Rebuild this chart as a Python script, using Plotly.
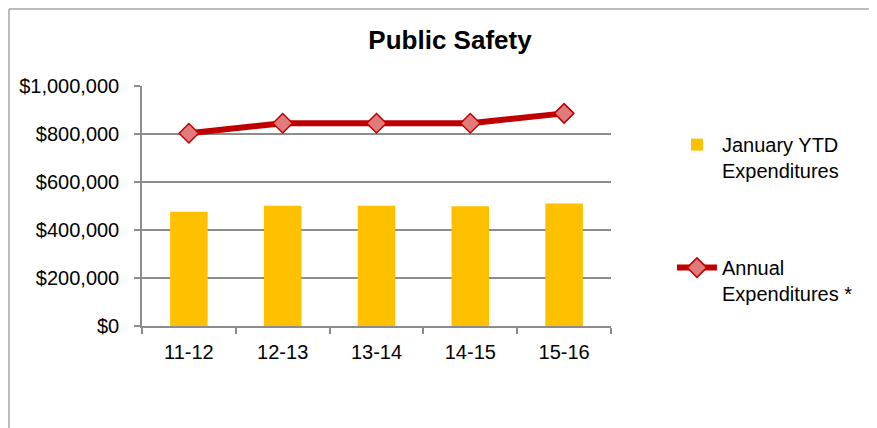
import plotly.graph_objects as go

categories = ["11-12", "12-13", "13-14", "14-15", "15-16"]
ytd_expenditures = [476000, 501000, 501000, 499000, 510000]
annual_expenditures = [803000, 845000, 845000, 845000, 886000]
y_ticks = [0, 200000, 400000, 600000, 800000, 1000000]

FONT = "Arial, Liberation Sans, sans-serif"

fig = go.Figure()
fig.add_trace(go.Bar(
    x=categories, y=ytd_expenditures,
    name="January YTD<br>Expenditures",
    marker=dict(color="#FFC000", line=dict(width=0)),
    width=0.4, legendgroup="a",
))
fig.add_trace(go.Scatter(
    x=categories, y=annual_expenditures,
    name="Annual<br>Expenditures *",
    mode="lines+markers",
    line=dict(color="#C00000", width=6),
    marker=dict(symbol="diamond", size=15, color="#E07B7B",
                line=dict(color="#C00000", width=1.5)),
    legendgroup="b",
))

# outer chart border (top and left edges visible)
fig.add_shape(type="line", xref="paper", yref="paper",
              x0=-0.2836, x1=-0.2836, y0=-0.6, y1=1.321,
              line=dict(color="#A6A6A6", width=1.5))
fig.add_shape(type="line", xref="paper", yref="paper",
              x0=-0.2836, x1=1.9, y0=1.321, y1=1.321,
              line=dict(color="#A6A6A6", width=1.5))

fig.update_layout(
    width=877, height=428,
    margin=dict(l=134, r=274, t=78, b=110),
    paper_bgcolor="white", plot_bgcolor="white",
    font=dict(family=FONT, size=20, color="black"),
    title=dict(text="<b>Public Safety</b>", x=0.504, xref="container", xanchor="center",
               y=0.925, yref="container", yanchor="middle",
               font=dict(family=FONT, size=26, color="black")),
    showlegend=True,
    legend=dict(x=1.13, xanchor="left", y=0.837, yanchor="top",
                valign="top", tracegroupgap=68, itemwidth=40,
                font=dict(family=FONT, size=20, color="black"),
                bgcolor="rgba(0,0,0,0)"),
    bargap=0.6,
)
fig.update_xaxes(
    type="category", showline=True, linecolor="#8C8C8C", linewidth=1.5,
    ticks="outside", tickson="boundaries", ticklen=6, tickcolor="#8C8C8C", tickwidth=1.5,
    showgrid=False, ticklabelstandoff=7,
    tickfont=dict(family=FONT, size=20, color="black"),
)
fig.update_yaxes(
    range=[0, 1000000], tickvals=y_ticks, tickformat="$,.0f",
    showline=True, linecolor="#8C8C8C", linewidth=1.5,
    ticks="outside", ticklen=6, tickcolor="#8C8C8C", tickwidth=1.5,
    showgrid=True, gridcolor="#8C8C8C", gridwidth=1.5,
    zeroline=False, ticklabelstandoff=11,
    tickfont=dict(family=FONT, size=20, color="black"),
)

fig.write_html("out.html")
